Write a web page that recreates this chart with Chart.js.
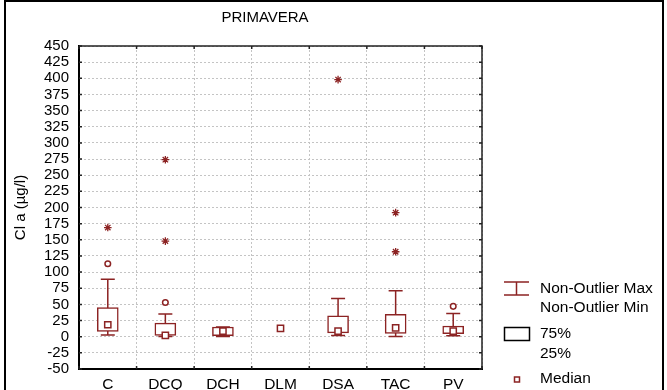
<!DOCTYPE html>
<html lang="en">
<head>
    <meta charset="UTF-8">
    <title>PRIMAVERA</title>
    <script src="https://cdn.jsdelivr.net/npm/chart.js"></script>
    <style>
        body { margin: 0; background: #fff; }
    </style>
</head>
<body>
    <canvas id="myChart" width="667" height="390"></canvas>

    <script>
        // box plot values (Cl a, µg/l)
        const categories = ['C', 'DCQ', 'DCH', 'DLM', 'DSA', 'TAC', 'PV'];
        const boxLow = [8, 2, 1.5, null, 6, 5, 4.5];        // 25%
        const boxHigh = [45, 21, 15, null, 32.5, 34.5, 16.5]; // 75%
        const medians = [18.5, 2, 8.5, 13, 8.5, 13.5, 8.5];
        const whiskerLow = [2.5, 0.5, 0.5, null, 2, 0.5, 1.5];  // non-outlier min
        const whiskerHigh = [89, 35, 15, null, 59, 71, 36];    // non-outlier max
        const outlierCats = ['C', 'DCQ', 'PV'];
        const outlierVals = [113, 53, 47];
        const extremeCats = ['C', 'DCQ', 'DCQ', 'DSA', 'TAC', 'TAC'];
        const extremeVals = [169, 148, 274, 398, 192, 131.5];
        const yTicks = { min: -50, max: 450, step: 25 };

        const red = '#8c2323';
        const font = "'Liberation Sans', Arial, sans-serif";

        // whiskers: stem + caps, drawn under the boxes
        const whiskers = {
            id: 'whiskers',
            beforeDatasetsDraw(chart) {
                const { ctx, scales: { x, y } } = chart;
                ctx.save();
                ctx.strokeStyle = red;
                ctx.lineWidth = 1.5;
                categories.forEach((c, i) => {
                    if (whiskerLow[i] == null) return;
                    const px = x.getPixelForValue(i);
                    const lo = y.getPixelForValue(whiskerLow[i]);
                    const hi = y.getPixelForValue(whiskerHigh[i]);
                    ctx.beginPath();
                    ctx.moveTo(px, lo); ctx.lineTo(px, hi);
                    ctx.moveTo(px - 7, lo); ctx.lineTo(px + 7, lo);
                    ctx.moveTo(px - 7, hi); ctx.lineTo(px + 7, hi);
                    ctx.stroke();
                });
                ctx.restore();
            }
        };

        // frame, plot box, inner ticks, title and the legend
        const decor = {
            id: 'decor',
            afterDraw(chart) {
                const { ctx, chartArea: a, scales: { x, y } } = chart;
                ctx.save();
                // plot box top/right
                ctx.strokeStyle = '#222';
                ctx.lineWidth = 1.5;
                ctx.beginPath();
                ctx.moveTo(a.left, a.top); ctx.lineTo(a.right, a.top); ctx.lineTo(a.right, a.bottom);
                ctx.stroke();
                // tick marks pointing inward
                ctx.beginPath();
                y.ticks.forEach((t, i) => {
                    const py = y.getPixelForTick(i);
                    ctx.moveTo(a.left, py); ctx.lineTo(a.left + 3, py);
                    ctx.moveTo(a.right, py); ctx.lineTo(a.right - 3, py);
                });
                for (let i = 0; i <= categories.length; i++) {
                    const px = x.getPixelForValue(i - 0.5);
                    ctx.moveTo(px, a.top); ctx.lineTo(px, a.top + 3);
                    ctx.moveTo(px, a.bottom); ctx.lineTo(px, a.bottom - 3);
                }
                ctx.stroke();

                // outer frame
                ctx.strokeStyle = '#000';
                ctx.lineWidth = 2;
                ctx.beginPath();
                ctx.moveTo(5, 390); ctx.lineTo(5, 1); ctx.lineTo(663, 1); ctx.lineTo(663, 390);
                ctx.stroke();

                // title
                ctx.fillStyle = '#000';
                ctx.font = '15px ' + font;
                ctx.textAlign = 'center';
                ctx.textBaseline = 'middle';
                ctx.fillText('PRIMAVERA', 265, 18);

                // legend
                ctx.strokeStyle = red;
                ctx.lineWidth = 1.5;
                ctx.beginPath();
                ctx.moveTo(504, 282); ctx.lineTo(529, 282);
                ctx.moveTo(504, 295); ctx.lineTo(529, 295);
                ctx.moveTo(516.5, 282); ctx.lineTo(516.5, 295);
                ctx.stroke();
                ctx.strokeStyle = '#000';
                ctx.strokeRect(504.5, 327.5, 25, 13);
                ctx.strokeStyle = red;
                ctx.strokeRect(514.5, 377, 5, 5);

                ctx.font = '15.5px ' + font;
                ctx.textAlign = 'left';
                ctx.fillText('Non-Outlier Max', 540, 289);
                ctx.fillText('Non-Outlier Min', 540, 308);
                ctx.fillText('75%', 540, 334);
                ctx.fillText('25%', 540, 354);
                ctx.fillText('Median', 540, 379);
                ctx.restore();
            }
        };

        const ctx = document.getElementById('myChart').getContext('2d');
        const myChart = new Chart(ctx, {
            type: 'bar',
            data: {
                labels: categories,
                datasets: [
                    {
                        type: 'line',
                        label: 'Median',
                        data: medians,
                        showLine: false,
                        pointStyle: 'rect',
                        pointRadius: 4.4,
                        pointBorderWidth: 1.5,
                        pointBorderColor: red,
                        pointBackgroundColor: '#fff',
                        order: 0
                    },
                    {
                        type: 'line',
                        label: 'Outliers',
                        data: outlierCats.map((c, i) => ({ x: c, y: outlierVals[i] })),
                        showLine: false,
                        pointStyle: 'circle',
                        pointRadius: 2.8,
                        pointBorderWidth: 1.5,
                        pointBorderColor: red,
                        pointBackgroundColor: '#fff',
                        order: 0
                    },
                    {
                        type: 'line',
                        label: 'Extremes',
                        data: extremeCats.map((c, i) => ({ x: c, y: extremeVals[i] })),
                        showLine: false,
                        pointStyle: 'star',
                        pointRadius: 3.8,
                        pointBorderWidth: 1.3,
                        pointBorderColor: red,
                        order: 0
                    },
                    {
                        label: '25%-75%',
                        data: categories.map((c, i) => boxLow[i] == null ? null : [boxLow[i], boxHigh[i]]),
                        backgroundColor: '#fff',
                        borderColor: red,
                        borderWidth: 1.5,
                        borderSkipped: false,
                        barThickness: 21,
                        order: 1
                    }
                ]
            },
            options: {
                responsive: false,
                animation: false,
                layout: { padding: { left: 12, top: 46, right: 185, bottom: 0 } },
                plugins: {
                    legend: { display: false },
                    tooltip: { enabled: false }
                },
                scales: {
                    x: {
                        offset: true,
                        grid: { offset: true, color: '#c4c4c4', drawTicks: false },
                        border: { color: '#000', width: 2, dash: [2, 2] },
                        ticks: { color: '#000', padding: 6, font: { family: font, size: 15.5 } },
                        afterFit: s => { s.height = 21; }
                    },
                    y: {
                        min: yTicks.min,
                        max: yTicks.max,
                        grid: { color: '#c4c4c4', drawTicks: false },
                        border: { color: '#000', width: 2, dash: [2, 2] },
                        ticks: {
                            stepSize: yTicks.step,
                            autoSkip: false,
                            color: '#000',
                            padding: 10,
                            font: { family: font, size: 15, lineHeight: 1 }
                        },
                        title: {
                            display: true,
                            text: 'Cl a (µg/l)',
                            color: '#000',
                            padding: 0,
                            font: { family: font, size: 15 }
                        },
                        afterFit: s => { s.width = 67; }
                    }
                }
            },
            plugins: [whiskers, decor]
        });
    </script>
</body>
</html>
